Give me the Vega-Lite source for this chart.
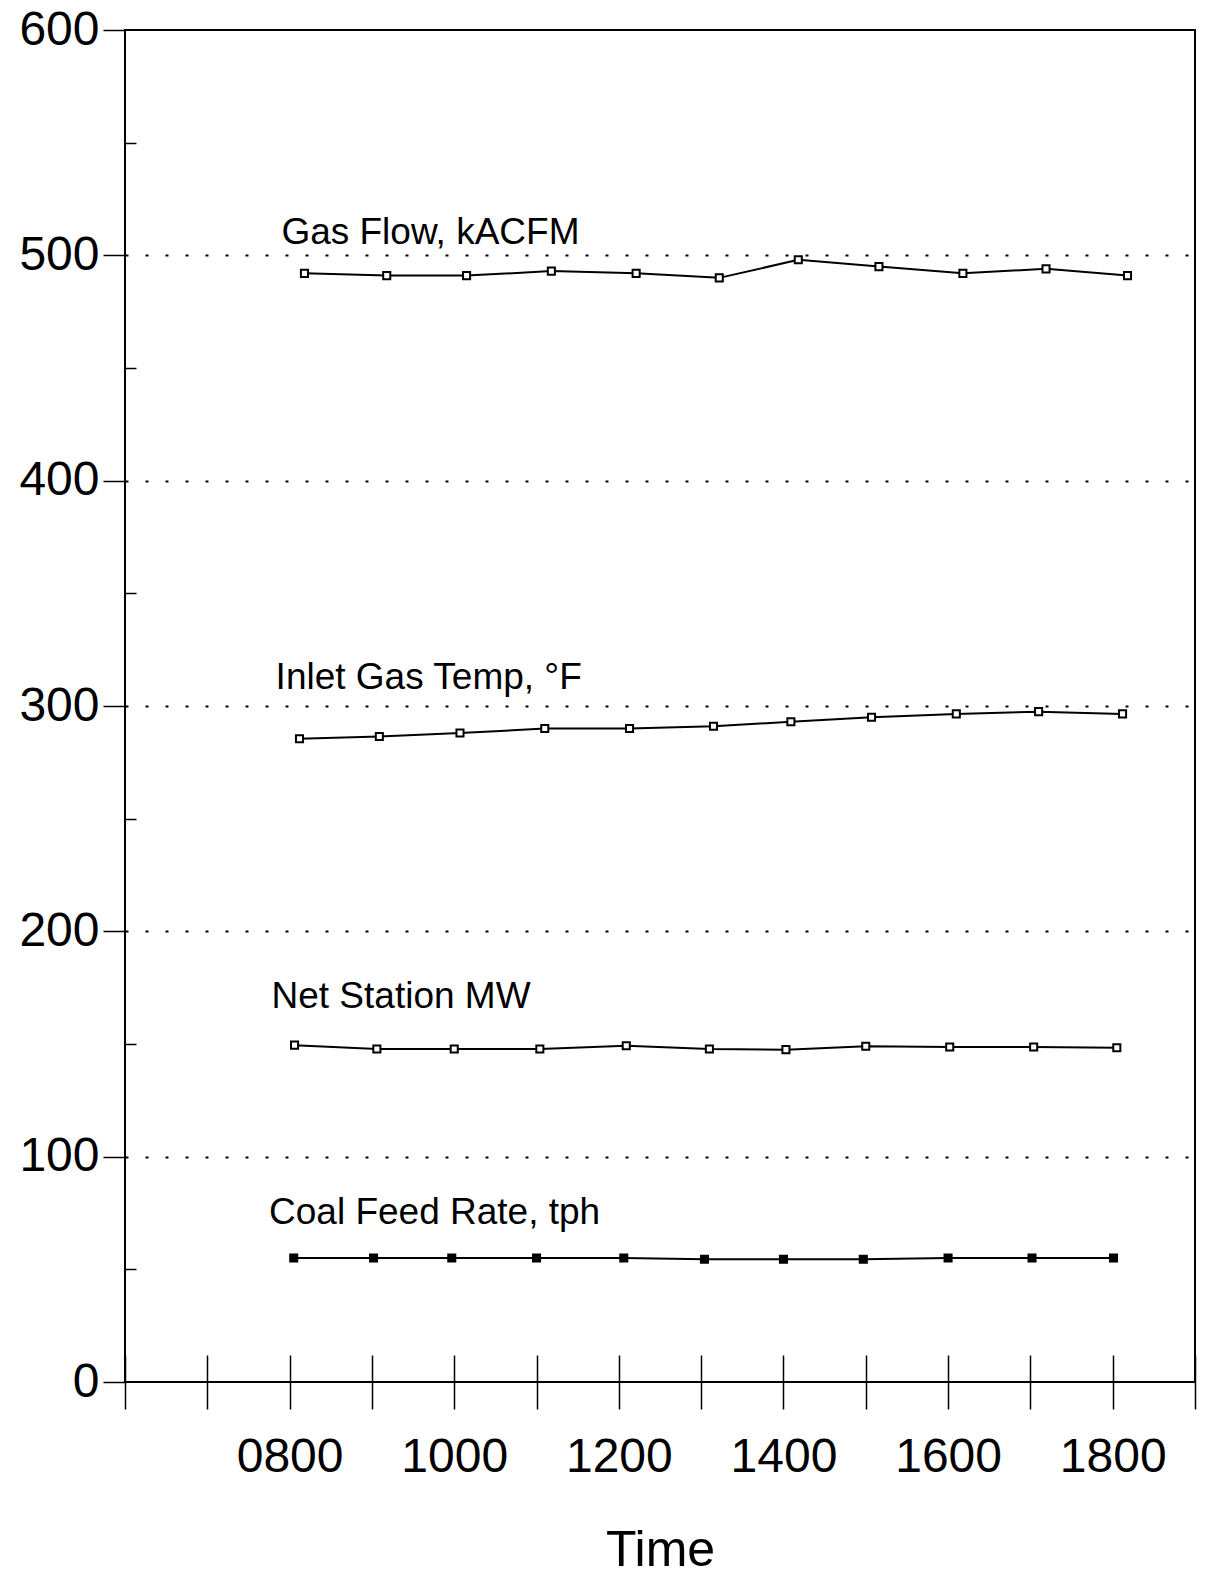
{
  "$schema": "https://vega.github.io/schema/vega-lite/v6.json",
  "width": 1070,
  "height": 1352,
  "autosize": {"type": "none"},
  "padding": {"left": 125, "top": 30, "right": 20, "bottom": 197},
  "background": "white",
  "config": {"view": {"stroke": "black", "strokeWidth": 2}, "font": "Liberation Sans"},
  "datasets": {
    "series": [
      {"series": "Gas Flow", "time": 818, "value": 492},
      {"series": "Gas Flow", "time": 918, "value": 491},
      {"series": "Gas Flow", "time": 1015, "value": 491},
      {"series": "Gas Flow", "time": 1118, "value": 493},
      {"series": "Gas Flow", "time": 1221, "value": 492},
      {"series": "Gas Flow", "time": 1322, "value": 490},
      {"series": "Gas Flow", "time": 1418, "value": 498},
      {"series": "Gas Flow", "time": 1516, "value": 495},
      {"series": "Gas Flow", "time": 1618, "value": 492},
      {"series": "Gas Flow", "time": 1719, "value": 494},
      {"series": "Gas Flow", "time": 1818, "value": 491},
      {"series": "Inlet Gas Temp", "time": 812, "value": 285.5},
      {"series": "Inlet Gas Temp", "time": 909, "value": 286.5},
      {"series": "Inlet Gas Temp", "time": 1007, "value": 288},
      {"series": "Inlet Gas Temp", "time": 1110, "value": 290},
      {"series": "Inlet Gas Temp", "time": 1213, "value": 290},
      {"series": "Inlet Gas Temp", "time": 1315, "value": 291},
      {"series": "Inlet Gas Temp", "time": 1409, "value": 293},
      {"series": "Inlet Gas Temp", "time": 1507, "value": 295},
      {"series": "Inlet Gas Temp", "time": 1610, "value": 296.5},
      {"series": "Inlet Gas Temp", "time": 1710, "value": 297.5},
      {"series": "Inlet Gas Temp", "time": 1812, "value": 296.5},
      {"series": "Net Station MW", "time": 806, "value": 149.5},
      {"series": "Net Station MW", "time": 906, "value": 147.8},
      {"series": "Net Station MW", "time": 1000, "value": 147.8},
      {"series": "Net Station MW", "time": 1104, "value": 147.8},
      {"series": "Net Station MW", "time": 1209, "value": 149.2},
      {"series": "Net Station MW", "time": 1310, "value": 147.8},
      {"series": "Net Station MW", "time": 1403, "value": 147.5},
      {"series": "Net Station MW", "time": 1500, "value": 149},
      {"series": "Net Station MW", "time": 1602, "value": 148.7},
      {"series": "Net Station MW", "time": 1704, "value": 148.7},
      {"series": "Net Station MW", "time": 1805, "value": 148.3},
      {"series": "Coal Feed Rate", "time": 805, "value": 55},
      {"series": "Coal Feed Rate", "time": 902, "value": 55},
      {"series": "Coal Feed Rate", "time": 997, "value": 55},
      {"series": "Coal Feed Rate", "time": 1100, "value": 55},
      {"series": "Coal Feed Rate", "time": 1206, "value": 55},
      {"series": "Coal Feed Rate", "time": 1304, "value": 54.5},
      {"series": "Coal Feed Rate", "time": 1400, "value": 54.5},
      {"series": "Coal Feed Rate", "time": 1497, "value": 54.5},
      {"series": "Coal Feed Rate", "time": 1600, "value": 55},
      {"series": "Coal Feed Rate", "time": 1702, "value": 55},
      {"series": "Coal Feed Rate", "time": 1801, "value": 55}
    ],
    "labels": [
      {"label": "Gas Flow, kACFM", "time": 790, "value": 505},
      {"label": "Inlet Gas Temp, °F", "time": 783, "value": 307.5},
      {"label": "Net Station MW", "time": 778, "value": 166},
      {"label": "Coal Feed Rate, tph", "time": 775, "value": 70}
    ]
  },
  "encoding": {
    "x": {
      "field": "time",
      "type": "quantitative",
      "scale": {"domain": [600, 1900], "nice": false, "zero": false},
      "axis": {
        "values": [600, 700, 800, 900, 1000, 1100, 1200, 1300, 1400, 1500, 1600, 1700, 1800, 1900],
        "format": "04d",
        "labelOpacity": {"condition": {"test": "datum.value % 200 == 0 && datum.value >= 800 && datum.value <= 1800", "value": 1}, "value": 0},
        "labelOverlap": false,
        "labelFlush": false,
        "tickSize": 54,
        "offset": -27,
        "domain": false,
        "grid": false,
        "tickColor": "black",
        "tickWidth": 1.5,
        "labelFontSize": 48,
        "labelColor": "black",
        "labelFont": "Liberation Sans",
        "labelPadding": 24,
        "title": "Time",
        "titleFont": "Liberation Sans",
        "titleFontSize": 50,
        "titleFontWeight": "normal",
        "titleColor": "black",
        "titlePadding": 44
      }
    },
    "y": {
      "field": "value",
      "type": "quantitative",
      "scale": {"domain": [0, 600], "nice": false},
      "axis": {
        "values": [0, 50, 100, 150, 200, 250, 300, 350, 400, 450, 500, 550, 600],
        "labelOpacity": {"condition": {"test": "datum.value % 100 == 0", "value": 1}, "value": 0},
        "labelOverlap": false,
        "labelFlush": false,
        "tickSize": {"condition": {"test": "datum.value % 100 == 0", "value": 22}, "value": -11},
        "tickColor": "black",
        "tickWidth": 1.5,
        "domain": false,
        "grid": true,
        "gridColor": "black",
        "gridWidth": 2,
        "gridDash": [3, 17],
        "gridOpacity": {"condition": {"test": "datum.value % 100 == 0 && datum.value > 0 && datum.value < 600", "value": 1}, "value": 0},
        "labelFontSize": 48,
        "labelColor": "black",
        "labelFont": "Liberation Sans",
        "labelPadding": 4,
        "title": null
      }
    }
  },
  "layer": [
    {
      "data": {"name": "series"},
      "mark": {"type": "line", "color": "black", "strokeWidth": 2},
      "encoding": {"detail": {"field": "series"}}
    },
    {
      "data": {"name": "series"},
      "mark": {"type": "point", "shape": "square", "size": 50, "filled": true, "stroke": "black", "strokeWidth": 2, "opacity": 1},
      "encoding": {
        "fill": {
          "field": "series",
          "type": "nominal",
          "scale": {"domain": ["Gas Flow", "Inlet Gas Temp", "Net Station MW", "Coal Feed Rate"], "range": ["white", "white", "white", "black"]},
          "legend": null
        }
      }
    },
    {
      "data": {"name": "labels"},
      "mark": {"type": "text", "align": "left", "baseline": "alphabetic", "fontSize": 37, "font": "Liberation Sans", "color": "black"},
      "encoding": {"text": {"field": "label"}}
    }
  ]
}
